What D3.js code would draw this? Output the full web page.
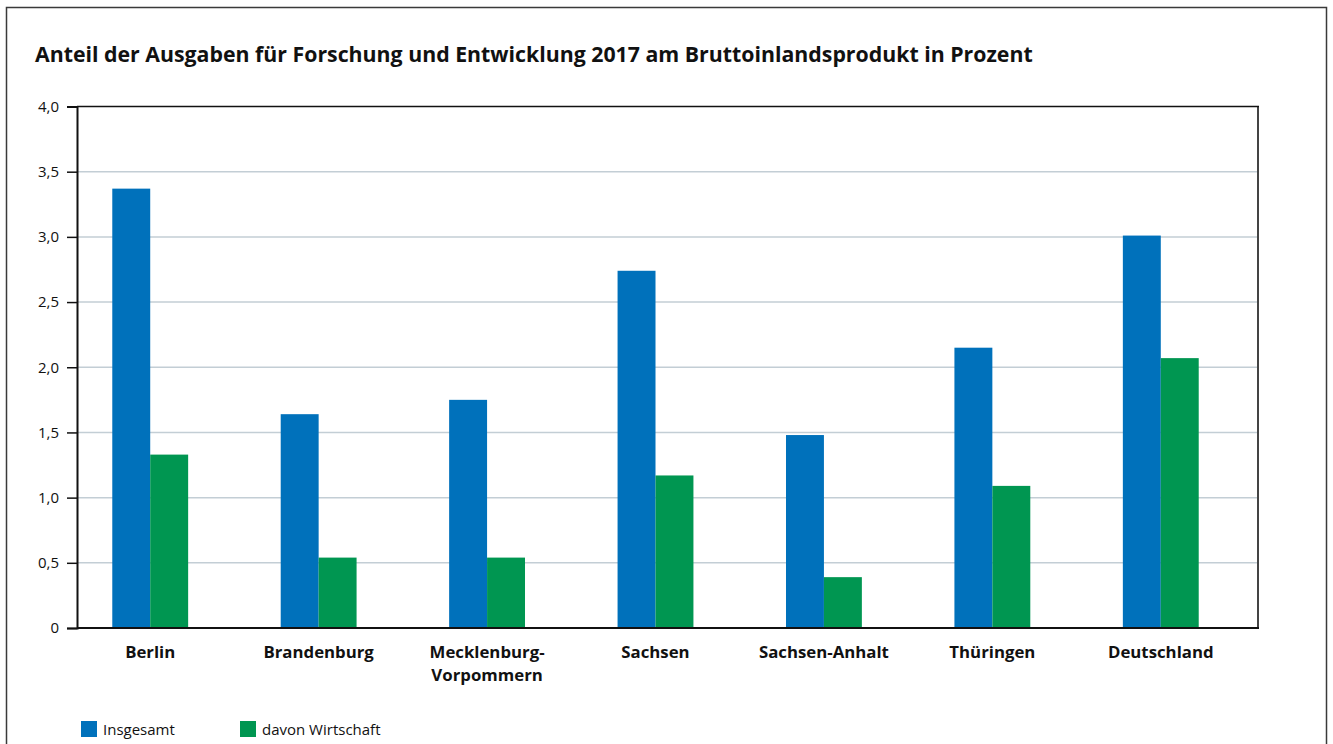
<!DOCTYPE html>
<html>
<head>
<meta charset="utf-8">
<script src="https://cdn.jsdelivr.net/npm/d3@7"></script>
<style>
  body { margin: 0; background: #fff; }
  svg { display: block; font-family: "Open Sans", "Noto Sans", sans-serif; }
</style>
</head>
<body>
<div id="chart"></div>
<script>
// Daten
var categories = ["Berlin", "Brandenburg", "Mecklenburg-\nVorpommern", "Sachsen", "Sachsen-Anhalt", "Thüringen", "Deutschland"]
var insgesamt = [3.37, 1.64, 1.75, 2.74, 1.48, 2.15, 3.01]
var wirtschaft = [1.33, 0.54, 0.54, 1.17, 0.39, 1.09, 2.07]
var seriesNames = ["Insgesamt", "davon Wirtschaft"]
var seriesColors = ["#0071bb", "#009651"]
var yTicks = [0, 0.5, 1, 1.5, 2, 2.5, 3, 3.5, 4]

var width = 1333, height = 744
var plotLeft = 77, plotRight = 1258, plotTop = 106.5, plotBottom = 628

var svg = d3.select("#chart").append("svg")
  .attr("width", width)
  .attr("height", height)

// Rahmen
svg.append("rect")
  .attr("x", 6.5).attr("y", 7.5)
  .attr("width", 1320).attr("height", 760)
  .attr("fill", "none").attr("stroke", "#3a3a3a").attr("stroke-width", 1.5)

svg.append("text")
  .attr("x", 35).attr("y", 62)
  .attr("font-size", 21.3).attr("font-weight", "bold").attr("fill", "#111")
  .text("Anteil der Ausgaben für Forschung und Entwicklung 2017 am Bruttoinlandsprodukt in Prozent")

var y = d3.scaleLinear().domain([0, 4]).range([plotBottom, plotTop])
var x0 = d3.scaleBand().domain(categories).range([66, 1245]).padding(0)
var x1 = d3.scaleBand().domain(seriesNames).range([0, x0.bandwidth()]).paddingInner(0).paddingOuter(1.22)

// Gitterlinien
svg.append("g").selectAll("line")
  .data(yTicks.filter(function(d) { return d > 0 && d < 4 }))
  .enter().append("line")
  .attr("x1", plotLeft).attr("x2", plotRight)
  .attr("y1", function(d) { return y(d) }).attr("y2", function(d) { return y(d) })
  .attr("stroke", "#c3ced5").attr("stroke-width", 1.5)

// Balken
var rows = categories.map(function(c, i) {
  return { cat: c, values: [insgesamt[i], wirtschaft[i]] }
})
var groups = svg.append("g").selectAll("g")
  .data(rows).enter().append("g")
  .attr("transform", function(d) { return "translate(" + x0(d.cat) + ",0)" })

groups.selectAll("rect")
  .data(function(d) { return d.values.map(function(v, j) { return { s: seriesNames[j], v: v, j: j } }) })
  .enter().append("rect")
  .attr("x", function(d) { return x1(d.s) })
  .attr("y", function(d) { return y(d.v) })
  .attr("width", x1.bandwidth())
  .attr("height", function(d) { return plotBottom - y(d.v) })
  .attr("fill", function(d) { return seriesColors[d.j] })

// Achsenrahmen
svg.append("line").attr("x1", plotRight).attr("x2", plotRight).attr("y1", plotTop).attr("y2", plotBottom)
  .attr("stroke", "#444").attr("stroke-width", 2)
svg.append("line").attr("x1", plotLeft).attr("x2", plotRight + 1).attr("y1", plotTop).attr("y2", plotTop)
  .attr("stroke", "#111").attr("stroke-width", 1.5)
svg.append("line").attr("x1", plotLeft).attr("x2", plotRight + 1).attr("y1", plotBottom).attr("y2", plotBottom)
  .attr("stroke", "#111").attr("stroke-width", 2)

var yAxis = svg.append("g")
  .attr("transform", "translate(" + plotLeft + ",0)")
  .call(d3.axisLeft(y).tickValues(yTicks).tickSize(10).tickPadding(8)
    .tickFormat(function(d) { return d === 0 ? "0" : d3.format(".1f")(d).replace(".", ",") }))
yAxis.select(".domain").attr("stroke", "#111").attr("stroke-width", 2)
yAxis.selectAll(".tick line").attr("stroke", "#111").attr("stroke-width", 1.5)
yAxis.selectAll("text").attr("font-size", 15).attr("fill", "#111")
  .attr("font-family", "'Open Sans', sans-serif")

// Kategorien
var labels = svg.append("g").selectAll("text")
  .data(categories).enter().append("text")
  .attr("x", function(d) { return x0(d) + x0.bandwidth() / 2 })
  .attr("y", 658)
  .attr("text-anchor", "middle")
  .attr("font-size", 16.8).attr("font-weight", "bold").attr("fill", "#111")
labels.selectAll("tspan")
  .data(function(d) { return d.split("\n") })
  .enter().append("tspan")
  .attr("x", function() { var p = this.parentNode.__data__; return x0(p) + x0.bandwidth() / 2 })
  .attr("dy", function(d, i) { return i === 0 ? 0 : 23 })
  .text(function(d) { return d })

// Legende
var legend = svg.append("g").selectAll("g")
  .data(seriesNames).enter().append("g")
  .attr("transform", function(d, i) { return "translate(" + (81 + i * 159) + ",721)" })
legend.append("rect").attr("width", 16).attr("height", 16)
  .attr("fill", function(d, i) { return seriesColors[i] })
legend.append("text").attr("x", 22).attr("y", 14)
  .attr("font-size", 15).attr("fill", "#111")
  .text(function(d) { return d })
</script>
</body>
</html>
